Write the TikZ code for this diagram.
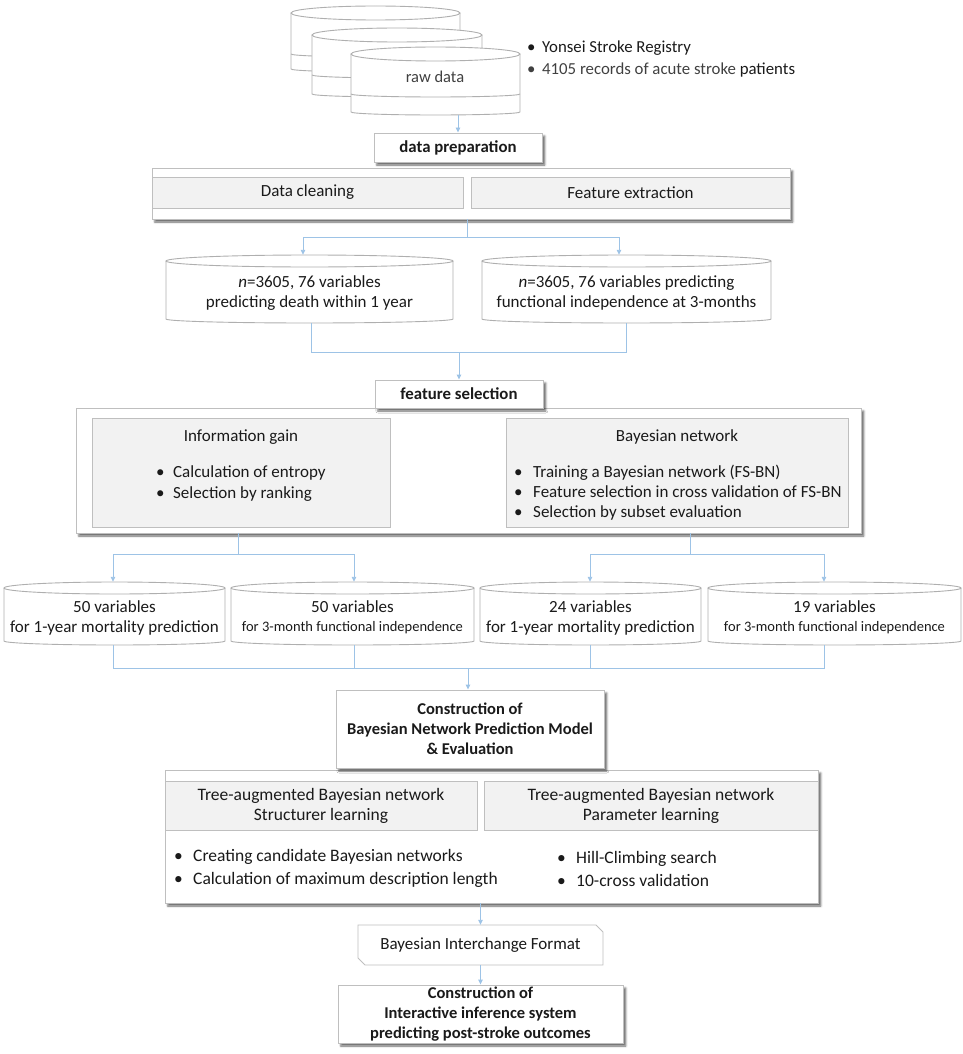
\documentclass[tikz,border=0pt]{standalone}
\usepackage{fontspec}
\setmainfont{Carlito}
\usetikzlibrary{arrows.meta,shadows.blur,calc}
\definecolor{bordc}{HTML}{BFBFBF}
\definecolor{cylc}{HTML}{AFAFAF}
\definecolor{connc}{HTML}{9DC3E6}
\definecolor{grayf}{HTML}{F2F2F2}
\definecolor{txtc}{HTML}{1A1A1A}
\definecolor{txtg}{HTML}{404040}
\newcommand\rnode[7]{\node[#1, minimum width={#5-#3}, minimum height={#6-#4}] (#2) at ({(#3+#5)/2},{(#4+#6)/2}) {#7};}
\newcommand\cylshape[5]{%
  \pgfmathsetmacro\cylrx{(#2-#1)/2}%
  \node[inner sep=0pt, minimum width={#2-#1}, minimum height={#4-#3}] (#5) at ({(#1+#2)/2},{(#3+#4)/2}) {};
  \fill[white] (#1,#3+6) arc[start angle=180,end angle=360,x radius=\cylrx,y radius=6] -- (#2,#4-4) arc[start angle=0,end angle=180,x radius=\cylrx,y radius=4] -- cycle;
  \draw[cylline] (#1,#3+6) -- (#1,#4-4) arc[start angle=180,end angle=0,x radius=\cylrx,y radius=4] -- (#2,#3+6);
  \draw[cylline] ({(#1+#2)/2},#3+6) ellipse[x radius=\cylrx,y radius=6];
}
\newcommand\stackcyl[6]{%
  \pgfmathsetmacro\cylrx{(#2-#1)/2}%
  \node[inner sep=0pt, minimum width={#2-#1}, minimum height={#5-#3}] (#6) at ({(#1+#2)/2},{(#3+#5)/2}) {};
  \fill[white] (#1,#3+7) arc[start angle=180,end angle=360,x radius=\cylrx,y radius=7] -- (#2,#5-3) arc[start angle=0,end angle=180,x radius=\cylrx,y radius=3] -- cycle;
  \draw[cylline] (#1,#3+7) -- (#1,#5-3) arc[start angle=180,end angle=0,x radius=\cylrx,y radius=3] -- (#2,#3+7);
  \draw[cylline] (#1,#4-3) arc[start angle=180,end angle=0,x radius=\cylrx,y radius=3];
  \draw[cylline] ({(#1+#2)/2},#3+7) ellipse[x radius=\cylrx,y radius=7];
}
\begin{document}
\begin{tikzpicture}[x=1pt,y=-1pt,
  box/.style={draw=bordc, line width=0.9pt, fill=white, inner sep=0pt, text=txtc, align=center,
    blur shadow={shadow xshift=2.8pt, shadow yshift=-3pt, shadow blur radius=2pt, shadow opacity=60}},
  gbox/.style={draw=bordc, line width=0.9pt, fill=grayf, inner sep=0pt, text=txtc, align=center},
  conn/.style={draw=connc, line width=0.9pt},
  arr/.style={conn, -{Triangle[length=5pt,width=4.5pt]}},
  cylline/.style={draw=cylc, line width=0.9pt},
  txt/.style={text=txtc, inner sep=0pt, align=center},
  f17/.style={font=\fontsize{17}{20}\selectfont},
  f175/.style={font=\fontsize{17.5}{20}\selectfont},
  fsm/.style={font=\fontsize{14.5}{16}\selectfont},
  bbold/.style={font=\bfseries\fontsize{16.8}{20}\selectfont},
]
\useasboundingbox (0,0) rectangle (963,1054);

% ---- raw data stack
\stackcyl{291}{460}{6}{57}{72}{rawA}
\stackcyl{312}{482}{28}{78}{97}{rawB}
\stackcyl{351}{520}{47}{97}{115}{rawC}
\node[txt, font=\fontsize{16.5}{19}\selectfont, text=txtg] (rawt) at (435,77) {raw data};
\node[txt, anchor=west, align=left, font=\fontsize{16.8}{22}\selectfont] (src) at (527,59)
  {\makebox[15pt][l]{•}Yonsei Stroke Registry\\
   \textcolor{txtg}{\makebox[15pt][l]{•}4105 records of acute stroke} patients};

% ---- data preparation
\rnode{box, bbold}{dp}{374}{133}{542}{162}{data preparation}
\coordinate (rawout) at (458,115.5);
\draw[arr] (rawout) -- (rawout |- dp.north);
\rnode{box}{prep}{152}{168}{790}{219}{}
\rnode{gbox, f17}{clean}{152}{177}{463}{208}{Data cleaning}
\rnode{gbox, f17}{extract}{471}{177}{790}{208}{Feature extraction}

% ---- datasets
\coordinate (j1) at (467,237);
\coordinate (j1a) at (303,237);
\coordinate (j1b) at (619,237);
\draw[conn] (j1 |- prep.south) -- (j1);
\draw[conn] (j1a) -- (j1b);
\cylshape{166}{453}{255}{323}{vd}
\cylshape{482}{771}{255}{323}{vf}
\draw[arr] (j1a) -- (j1a |- vd.north);
\draw[arr] (j1b) -- (j1b |- vf.north);
\node[txt, f17] (vdt) at (309.5,293) {\textit{n}=3605, 76 variables\\predicting death within 1 year};
\node[txt, f17] (vft) at (626.5,293) {\textit{n}=3605, 76 variables predicting\\functional independence at 3-months};

% ---- feature selection
\rnode{box}{fsbox}{76}{408}{861}{533}{}
\rnode{box, bbold}{fs}{375}{380}{543}{408}{feature selection}
\coordinate (j2a) at (311,352);
\coordinate (j2b) at (626,352);
\coordinate (j2) at (459,352);
\draw[conn] (j2a |- vd.south) -- (j2a) -- (j2b) -- (j2b |- vf.south);
\draw[arr] (j2) -- (j2 |- fs.north);
\rnode{gbox}{ig}{92}{418}{390}{527}{}
\rnode{gbox}{bn}{506}{418}{848}{527}{}
\node[txt, f17] (igt) at (241,437) {Information gain};
\node[txt, anchor=west, align=left, font=\fontsize{17}{21}\selectfont] (igl) at (156,484)
  {\makebox[17pt][l]{•}Calculation of entropy\\\makebox[17pt][l]{•}Selection by ranking};
\node[txt, f17] (bnt) at (677,437) {Bayesian network};
\node[txt, anchor=west, align=left, font=\fontsize{17}{20}\selectfont] (bnl) at (514,493)
  {\makebox[19pt][l]{•}Training a Bayesian network (FS-BN)\\
   \makebox[19pt][l]{•}Feature selection in cross validation of FS-BN\\
   \makebox[19pt][l]{•}Selection by subset evaluation};

% ---- selected variable sets
\coordinate (k1) at (238,554);
\coordinate (k1a) at (113,554);
\coordinate (k1b) at (354,554);
\coordinate (k2) at (690,554);
\coordinate (k2a) at (590,554);
\coordinate (k2b) at (824,554);
\draw[conn] (k1 |- fsbox.south) -- (k1);
\draw[conn] (k2 |- fsbox.south) -- (k2);
\draw[conn] (k1a) -- (k1b);
\draw[conn] (k2a) -- (k2b);
\cylshape{4}{225}{582}{645}{c1}
\cylshape{231}{474}{582}{645}{c2}
\cylshape{480}{701}{582}{645}{c3}
\cylshape{708}{961}{582}{645}{c4}
\draw[arr] (k1a) -- (k1a |- c1.north);
\draw[arr] (k1b) -- (k1b |- c2.north);
\draw[arr] (k2a) -- (k2a |- c3.north);
\draw[arr] (k2b) -- (k2b |- c4.north);
\node[txt, f17] (c1a) at (114.5,607) {50 variables};
\node[txt, f17] (c1b) at (114.5,628) {for 1-year mortality prediction};
\node[txt, f17] (c2a) at (352.5,607) {50 variables};
\node[txt, fsm] (c2b) at (352.5,628) {for 3-month functional independence};
\node[txt, f17] (c3a) at (590.5,607) {24 variables};
\node[txt, f17] (c3b) at (590.5,628) {for 1-year mortality prediction};
\node[txt, f17] (c4a) at (834.5,607) {19 variables};
\node[txt, fsm] (c4b) at (834.5,628) {for 3-month functional independence};

% ---- model construction
\coordinate (m) at (468,668);
\coordinate (m1) at (113,668);
\coordinate (m2) at (354,668);
\coordinate (m3) at (590,668);
\coordinate (m4) at (824,668);
\rnode{box}{evalbox}{165}{770}{818}{903}{}
\rnode{box, font=\bfseries\fontsize{16.5}{20}\selectfont}{cons}{336}{690}{604}{768}{Construction of\\Bayesian Network Prediction Model\\\& Evaluation}
\draw[conn] (m1 |- c1.south) -- (m1) -- (m4) -- (m4 |- c4.south);
\draw[conn] (m2 |- c2.south) -- (m2);
\draw[conn] (m3 |- c3.south) -- (m3);
\draw[arr] (m) -- (m |- cons.north);
\rnode{gbox, f175}{tans}{165}{781}{477}{830}{Tree-augmented Bayesian network\\Structurer learning}
\rnode{gbox, f175}{tanp}{484}{781}{818}{830}{Tree-augmented Bayesian network\\Parameter learning}
\node[txt, anchor=west, align=left, font=\fontsize{17.5}{23}\selectfont] (tansl) at (174,868.5)
  {\makebox[19pt][l]{•}Creating candidate Bayesian networks\\\makebox[19pt][l]{•}Calculation of maximum description length};
\node[txt, anchor=west, align=left, font=\fontsize{17.5}{23}\selectfont] (tanpl) at (557,868.5)
  {\makebox[19pt][l]{•}Hill-Climbing search\\\makebox[19pt][l]{•}10-cross validation};

% ---- interchange format and final system
\draw[draw=bordc, line width=0.9pt, fill=white] (358,925) -- (596,925) -- (603,932) -- (603,965) -- (365,965) -- (358,958) -- cycle;
\rnode{txt, f17}{bif}{358}{925}{603}{965}{Bayesian Interchange Format}
\draw[arr] (bif.north |- evalbox.south) -- (bif.north);
\rnode{box, font=\bfseries\fontsize{16.5}{20}\selectfont}{final}{338}{985}{623}{1043}{Construction of\\Interactive inference system\\predicting post-stroke outcomes}
\draw[arr] (bif.south) -- (final.north);
\end{tikzpicture}
\end{document}
